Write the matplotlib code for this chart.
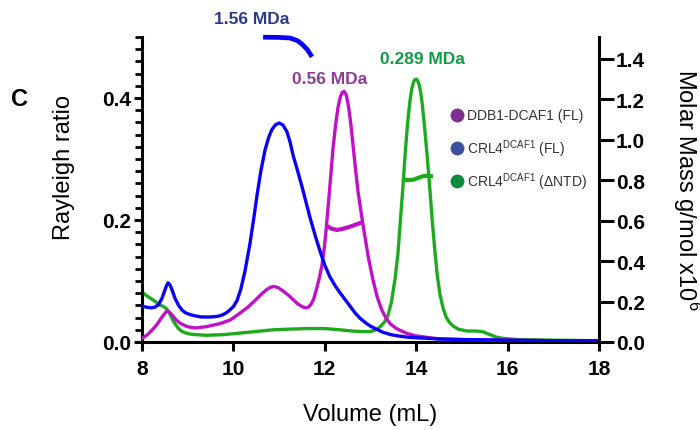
import matplotlib
matplotlib.use("Agg")
import matplotlib.pyplot as plt
from matplotlib.ticker import MultipleLocator, FormatStrFormatter
from matplotlib.lines import Line2D

plt.rcParams['font.family'] = ['Liberation Sans', 'DejaVu Sans']
plt.rcParams['mathtext.fontset'] = 'custom'
plt.rcParams['mathtext.rm'] = 'Liberation Sans'

# ---- data ----
vol_blue = [8.0, 8.1, 8.2, 8.28, 8.36, 8.44, 8.5, 8.54, 8.57, 8.61, 8.66, 8.72, 8.8, 8.88, 8.95,
            9.05, 9.15, 9.3, 9.5, 9.65, 9.75, 9.85, 9.93, 10.0, 10.08, 10.16, 10.25, 10.36, 10.45,
            10.52, 10.6, 10.69, 10.77, 10.84, 10.92, 11.0, 11.08, 11.17, 11.24, 11.31, 11.4,
            11.5, 11.6, 11.68, 11.8, 11.9, 12.0, 12.11, 12.22, 12.33, 12.45, 12.55, 12.66, 12.77,
            12.9, 13.0, 13.13, 13.27, 13.45, 13.6, 13.8, 14.0, 14.5, 15.0, 16.0, 17.0, 18.0]
rr_blue = [0.059, 0.057, 0.056, 0.057, 0.061, 0.072, 0.085, 0.093, 0.097, 0.094, 0.085, 0.072,
           0.060, 0.052, 0.048, 0.045, 0.043, 0.041, 0.041, 0.042, 0.044, 0.048, 0.053, 0.058,
           0.068, 0.086, 0.115, 0.160, 0.205, 0.242, 0.280, 0.314, 0.335, 0.348, 0.356, 0.359,
           0.356, 0.345, 0.328, 0.305, 0.282, 0.255, 0.226, 0.203, 0.172, 0.148, 0.126, 0.107,
           0.093, 0.081, 0.069, 0.059, 0.048, 0.039, 0.031, 0.026, 0.021, 0.016, 0.012, 0.010,
           0.008, 0.007, 0.005, 0.004, 0.003, 0.002, 0.002]

vol_mag = [8.0, 8.12, 8.24, 8.34, 8.43, 8.5, 8.55, 8.6, 8.66, 8.75, 8.85, 9.0, 9.16, 9.4, 9.7,
           9.93, 10.1, 10.3, 10.5, 10.62, 10.73, 10.82, 10.9, 10.98, 11.08, 11.2, 11.3, 11.4,
           11.5, 11.58, 11.64, 11.7, 11.76, 11.83, 11.89, 11.94, 11.99, 12.03, 12.1, 12.18,
           12.24, 12.29, 12.34, 12.38, 12.42, 12.47, 12.52, 12.57, 12.62, 12.68, 12.73, 12.84,
           12.95, 13.05, 13.15, 13.25, 13.35, 13.43, 13.55, 13.65, 13.8, 14.0, 14.5, 15.0, 16.0,
           17.0, 18.0]
rr_mag = [0.006, 0.012, 0.021, 0.030, 0.040, 0.047, 0.051, 0.049, 0.044, 0.036, 0.030, 0.025,
          0.023, 0.025, 0.030, 0.036, 0.045, 0.056, 0.070, 0.079, 0.086, 0.090, 0.091, 0.089,
          0.084, 0.077, 0.070, 0.063, 0.058, 0.056, 0.057, 0.062, 0.071, 0.090, 0.108, 0.127,
          0.155, 0.185, 0.245, 0.318, 0.358, 0.385, 0.402, 0.409, 0.411, 0.405, 0.386, 0.357,
          0.321, 0.278, 0.245, 0.190, 0.140, 0.103, 0.073, 0.052, 0.038, 0.030, 0.023, 0.019,
          0.014, 0.010, 0.005, 0.004, 0.003, 0.002, 0.002]

vol_grn = [8.0, 8.1, 8.2, 8.3, 8.39, 8.47, 8.53, 8.58, 8.63, 8.68, 8.74, 8.8, 8.88, 8.95, 9.05,
           9.2, 9.4, 9.77, 10.2, 10.6, 10.87, 11.2, 11.6, 12.0, 12.33, 12.6, 12.85, 12.99, 13.08,
           13.14, 13.21, 13.3, 13.38, 13.46, 13.54, 13.6, 13.65, 13.71, 13.76, 13.81, 13.86,
           13.9, 13.94, 13.97, 14.0, 14.03, 14.07, 14.1, 14.13, 14.18, 14.24, 14.3, 14.35, 14.41,
           14.46, 14.52, 14.59, 14.66, 14.73, 14.81, 14.92, 15.11, 15.3, 15.45, 15.55, 15.65,
           15.75, 15.9, 16.2, 17.0, 18.0]
rr_grn = [0.082, 0.076, 0.071, 0.066, 0.061, 0.058, 0.055, 0.050, 0.043, 0.035, 0.028, 0.022,
          0.017, 0.015, 0.013, 0.012, 0.011, 0.012, 0.015, 0.018, 0.020, 0.021, 0.022, 0.022,
          0.020, 0.018, 0.017, 0.017, 0.019, 0.021, 0.025, 0.032, 0.043, 0.066, 0.105, 0.145,
          0.195, 0.255, 0.310, 0.357, 0.393, 0.414, 0.426, 0.430, 0.431, 0.429, 0.420, 0.408,
          0.392, 0.355, 0.305, 0.250, 0.200, 0.148, 0.110, 0.078, 0.055, 0.040, 0.032, 0.026,
          0.021, 0.018, 0.018, 0.017, 0.014, 0.011, 0.008, 0.006, 0.004, 0.003, 0.002]

mm_vol_blue = [10.65, 11.0, 11.24, 11.4, 11.5, 11.62, 11.72]
mm_blue = [1.507, 1.506, 1.503, 1.49, 1.473, 1.445, 1.41]
mm_vol_mag = [12.05, 12.15, 12.27, 12.4, 12.55, 12.7, 12.84]
mm_mag = [0.573, 0.560, 0.554, 0.560, 0.570, 0.582, 0.594]
mm_vol_grn = [13.69, 13.8, 13.93, 14.05, 14.15, 14.27, 14.37]
mm_grn = [0.808, 0.800, 0.802, 0.812, 0.820, 0.822, 0.818]

legend_labels = ['DDB1-DCAF1 (FL)', r'CRL4$^{\mathrm{DCAF1}}$ (FL)', r'CRL4$^{\mathrm{DCAF1}}$ (ΔNTD)']
mass_labels = ['1.56 MDa', '0.56 MDa', '0.289 MDa']

c_blue = '#0a00f5'
c_mag = '#c010c8'
c_grn = '#1eaa1e'

W, H = 700, 431
fig = plt.figure(figsize=(7.0, 4.31), dpi=100)
ax = fig.add_axes([142 / W, 1 - 343 / H, (599 - 142) / W, (343 - 38) / H])
ax2 = ax.twinx()

lw = 2.4
ax.plot(vol_grn, rr_grn, color=c_grn, lw=lw, zorder=2)
ax.plot(vol_mag, rr_mag, color=c_mag, lw=lw, zorder=3)
ax.plot(vol_blue, rr_blue, color=c_blue, lw=lw, zorder=4)

ax2.plot(mm_vol_blue, mm_blue, color=c_blue, lw=3.4, clip_on=False, solid_capstyle='butt')
ax2.plot(mm_vol_mag, mm_mag, color=c_mag, lw=3.0, solid_capstyle='butt')
ax2.plot(mm_vol_grn, mm_grn, color=c_grn, lw=3.0, solid_capstyle='butt')

ax.set_xlim(8, 18)
ax.set_ylim(0, 0.5)
ax2.set_ylim(0, 1.508)

ax.xaxis.set_major_locator(MultipleLocator(2))
ax.yaxis.set_major_locator(MultipleLocator(0.2))
ax.yaxis.set_minor_locator(MultipleLocator(0.02))
ax2.yaxis.set_major_locator(MultipleLocator(0.2))
ax.yaxis.set_major_formatter(FormatStrFormatter('%.1f'))
ax2.yaxis.set_major_formatter(FormatStrFormatter('%.1f'))

for a in (ax, ax2):
    a.spines['top'].set_visible(False)
    for s in a.spines.values():
        s.set_linewidth(2.2)
ax.spines['right'].set_visible(False)
ax2.spines['left'].set_visible(False)
ax2.spines['bottom'].set_visible(False)

ax.tick_params(axis='x', which='major', length=6.5, width=2.2, pad=6, labelsize=15)
ax.tick_params(axis='y', which='major', length=5.5, width=2.2, pad=2, labelsize=15)
ax.tick_params(axis='y', which='minor', length=5, width=2.0)
ax2.tick_params(axis='y', which='major', length=11, width=2.2, pad=1, labelsize=15)
for lab in ax.get_xticklabels() + ax.get_yticklabels() + ax2.get_yticklabels():
    lab.set_fontweight('bold')

ax.set_xlabel('Volume (mL)', fontsize=17, labelpad=18)
fig.text(64 / W, 1 - 167 / H, 'Rayleigh ratio', fontsize=17, rotation=90, ha='center', va='center')
fig.text(686 / W, 1 - 190 / H, 'Molar Mass g/mol x10$^{6}$', fontsize=17, rotation=270,
         ha='center', va='center')
fig.text(19 / W, 1 - 100 / H, 'C', fontsize=17, fontweight='bold', ha='center', va='center')

fig.text(252 / W, 1 - 19 / H, mass_labels[0], fontsize=12.5, fontweight='bold', color='#2b3990',
         ha='center', va='center')
fig.text(330 / W, 1 - 79 / H, mass_labels[1], fontsize=12.5, fontweight='bold', color='#8e3a96',
         ha='center', va='center')
fig.text(422 / W, 1 - 60 / H, mass_labels[2], fontsize=12.5, fontweight='bold', color='#109a48',
         ha='center', va='center')

dot_colors = ['#7f2f8f', '#3e4fa0', '#0e8c3e']
rows = [116, 149, 182]
for lab, col, py in zip(legend_labels, dot_colors, rows):
    fig.lines.append(Line2D([457 / W], [1 - py / H], marker='o', markersize=9,
                            color=col, transform=fig.transFigure, lw=0))
    fig.text(467 / W, 1 - py / H, lab, fontsize=10, color='#333333', ha='left', va='center')

fig.savefig('out.png', dpi=100)
